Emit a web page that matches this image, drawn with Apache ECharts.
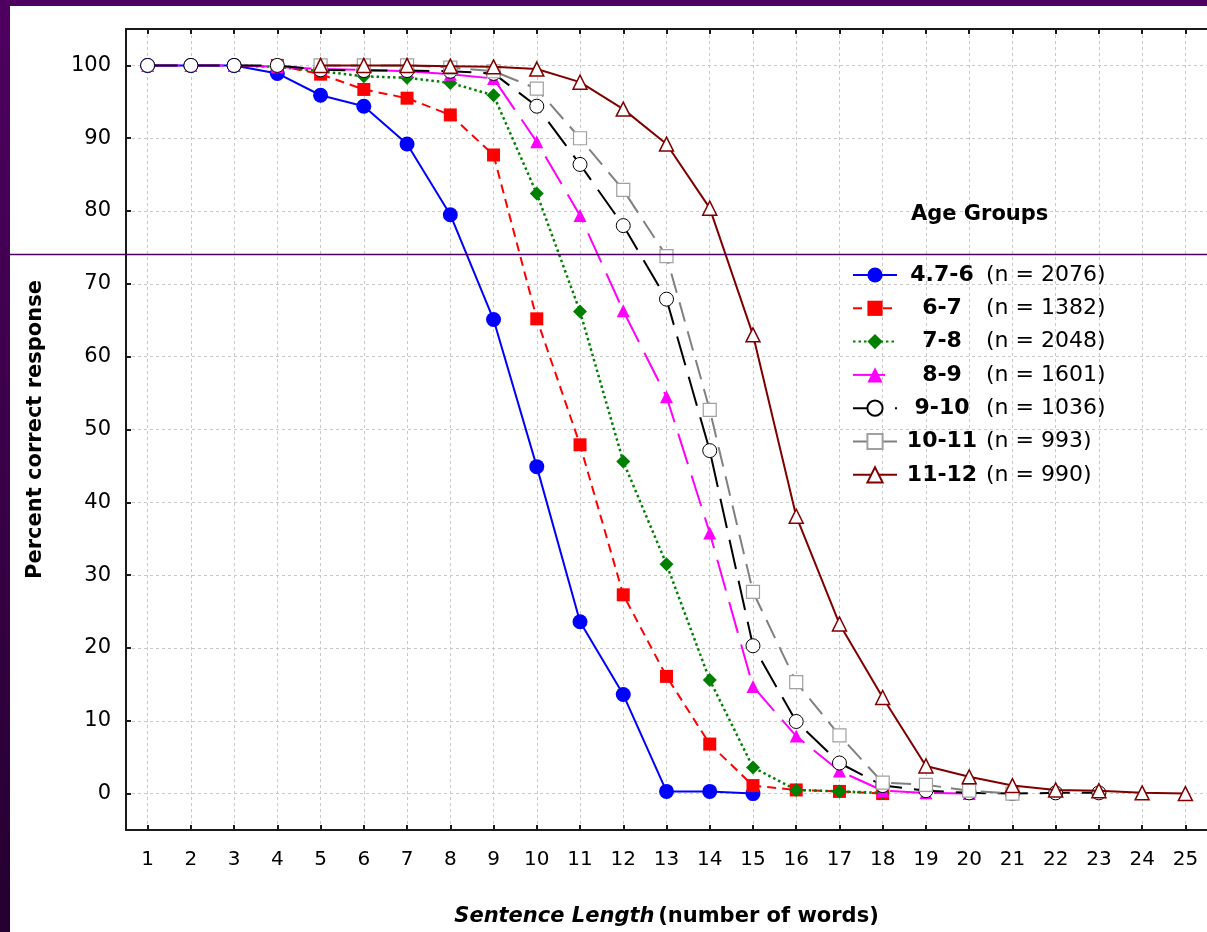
<!DOCTYPE html>
<html>
<head>
<meta charset="utf-8">
<script src="https://cdn.jsdelivr.net/npm/echarts@6/dist/echarts.min.js"></script>
<style>
html,body{margin:0;padding:0;background:#fff;}
#chart{width:1207px;height:932px;}
</style>
</head>
<body>
<div id="chart"></div>
<script>
// ---- data ----
const xTicks = [1,2,3,4,5,6,7,8,9,10,11,12,13,14,15,16,17,18,19,20,21,22,23,24,25];
const yTicks = [0,10,20,30,40,50,60,70,80,90,100];

const groupNames = ['4.7-6','6-7','7-8','8-9','9-10','10-11','11-12'];
const groupN = ['2076','1382','2048','1601','1036','993','990'];

const g1X = [1,2,3,4,5,6,7,8,9,10,11,12,13,14,15];
const g1Y = [100,100,100,98.9,95.9,94.4,89.2,79.5,65.1,44.9,23.6,13.6,0.3,0.3,0];

const g2X = [4,5,6,7,8,9,10,11,12,13,14,15,16,17,18];
const g2Y = [100,98.8,96.7,95.5,93.2,87.7,65.2,47.9,27.3,16.1,6.8,1.1,0.5,0.3,0];

const g3X = [3,4,5,6,7,8,9,10,11,12,13,14,15,16,17,18];
const g3Y = [100,99.8,99.2,98.5,98.3,97.6,95.9,82.4,66.2,45.6,31.5,15.6,3.6,0.5,0.3,0.1];

const g4X = [1,2,3,4,5,6,7,8,9,10,11,12,13,14,15,16,17,18,19,20];
const g4Y = [100,100,100,99.8,99.5,99.4,99.2,98.8,98.2,89.5,79.4,66.3,54.5,35.8,14.7,7.9,3.1,0.4,0.1,0];

const g5X = [1,2,3,4,5,6,7,8,9,10,11,12,13,14,15,16,17,18,19,20,21,22,23];
const g5Y = [100,100,100,100,99.4,99.3,99.3,99.2,98.9,94.4,86.4,78.0,67.9,47.1,20.3,9.9,4.2,1.1,0.4,0.1,0,0.1,0.1];

const g6X = [5,6,7,8,9,10,11,12,13,14,15,16,17,18,19,20,21];
const g6Y = [100,100,100,99.7,99.2,96.8,90.0,82.9,73.8,52.7,27.7,15.3,8.0,1.5,1.2,0.4,0];

const g7X = [5,6,7,8,9,10,11,12,13,14,15,16,17,18,19,20,21,22,23,24,25];
const g7Y = [100,100,100,99.9,99.8,99.5,97.7,94.0,89.2,80.4,63.0,38.1,23.3,13.2,3.8,2.3,1.1,0.5,0.4,0.1,0];

const allX = [g1X,g2X,g3X,g4X,g5X,g6X,g7X];
const allY = [g1Y,g2Y,g3Y,g4Y,g5Y,g6Y,g7Y];

// ---- styles ----
const FONT = 'DejaVu Sans';
const styles = [
  {color:'#0000ff', type:'solid', width:2, symbol:'circle', size:15, fill:'#0000ff', border:'#0000ff', bw:0},
  {color:'#ff0000', type:[9,6], width:2, symbol:'rect', size:13, fill:'#ff0000', border:'#ff0000', bw:0},
  {color:'#008000', type:[2.5,3], width:2.5, symbol:'diamond', size:14, fill:'#008000', border:'#008000', bw:0},
  {color:'#ff00ff', type:[32,12], width:2, symbol:'triangle', size:13, fill:'#ff00ff', border:'#ff00ff', bw:0},
  {color:'#000000', type:[30,12], width:2, symbol:'circle', size:14, fill:'#ffffff', border:'#000000', bw:1},
  {color:'#808080', type:[20,10], width:2, symbol:'rect', size:13, fill:'#ffffff', border:'#a0a0a0', bw:1.2},
  {color:'#800000', type:'solid', width:2, symbol:'triangle', size:14, fill:'#ffffff', border:'#800000', bw:1.5}
];

const series = groupNames.map((name, i) => ({
  name: name,
  type: 'line',
  data: allX[i].map((x, j) => [x, allY[i][j]]),
  symbol: styles[i].symbol,
  symbolSize: styles[i].size,
  showAllSymbol: true,
  lineStyle: {color: styles[i].color, type: styles[i].type, width: styles[i].width},
  itemStyle: {color: styles[i].fill, borderColor: styles[i].border, borderWidth: styles[i].bw},
  emphasis: {disabled: true},
  z: 2 + i,
  animation: false
}));

const nameMap = {};
groupNames.forEach((n, i) => { nameMap[n] = groupN[i]; });

const chart = echarts.init(document.getElementById('chart'), null, {renderer: 'canvas'});
chart.setOption({
  animation: false,
  backgroundColor: '#ffffff',
  textStyle: {fontFamily: FONT},
  title: {
    text: 'Age Groups',
    left: 906, top: 199,
    textStyle: {fontFamily: FONT, fontSize: 21, fontWeight: 'bold', color: '#000'}
  },
  grid: {left: 126, top: 29, right: -9, bottom: 101, containLabel: false},
  legend: {
    orient: 'vertical',
    left: 847, top: 259,
    itemWidth: 44, itemHeight: 19, itemGap: 11.3,
    data: groupNames,
    formatter: n => '{a|' + n + '}{b|(n = ' + nameMap[n] + ')}',
    textStyle: {
      fontFamily: FONT, fontSize: 22, color: '#000',
      rich: {
        a: {fontFamily: FONT, fontSize: 22, fontWeight: 'bold', width: 80, align: 'center', lineHeight: 22},
        b: {fontFamily: FONT, fontSize: 22, padding: [0,0,0,4], lineHeight: 22}
      }
    }
  },
  xAxis: [{
    type: 'value', min: 0.5, max: 25.5, position: 'bottom',
    name: '{i|Sentence Length} {b|(number of words)}',
    nameLocation: 'middle', nameGap: 76,
    nameTextStyle: {rich: {
      i: {fontFamily: FONT, fontSize: 21, fontWeight: 'bold', fontStyle: 'italic', color: '#000'},
      b: {fontFamily: FONT, fontSize: 21, fontWeight: 'bold', color: '#000'}
    }},
    axisLine: {show: true, onZero: false, lineStyle: {color: '#1a1a1a', width: 2}},
    axisTick: {show: true, inside: true, length: 5, lineStyle: {color: '#1a1a1a', width: 2}, customValues: xTicks},
    axisLabel: {fontFamily: FONT, fontSize: 20, color: '#000', margin: 20, customValues: xTicks},
    splitLine: {show: true, lineStyle: {color: '#c8c8c8', type: [3,3], width: 1}}
  }, {
    type: 'value', min: 0.5, max: 25.5, position: 'top',
    axisLine: {show: true, onZero: false, lineStyle: {color: '#1a1a1a', width: 2}},
    axisTick: {show: true, inside: true, length: 5, lineStyle: {color: '#1a1a1a', width: 2}, customValues: xTicks},
    axisLabel: {show: false},
    splitLine: {show: false}
  }],
  yAxis: {
    type: 'value', min: -5, max: 105,
    name: 'Percent correct response',
    nameLocation: 'middle', nameGap: 80, nameRotate: 90,
    nameTextStyle: {fontFamily: FONT, fontSize: 21, fontWeight: 'bold', color: '#000'},
    axisLine: {show: true, onZero: false, lineStyle: {color: '#1a1a1a', width: 2}},
    axisTick: {show: true, inside: true, length: 5, lineStyle: {color: '#1a1a1a', width: 2}, customValues: yTicks},
    axisLabel: {fontFamily: FONT, fontSize: 21, color: '#000', margin: 15, customValues: yTicks},
    splitLine: {show: true, lineStyle: {color: '#c8c8c8', type: [3,3], width: 1}}
  },
  graphic: [
    {type: 'rect', left: 0, top: 0, z: 100, shape: {width: 1207, height: 6}, style: {fill: '#4f0061'}},
    {type: 'rect', left: 0, top: 0, z: 100, shape: {width: 10, height: 932},
      style: {fill: new echarts.graphic.LinearGradient(0, 0, 0, 1, [{offset: 0, color: '#4f0061'}, {offset: 1, color: '#250030'}])}},
    {type: 'line', z: 100, shape: {x1: 10, y1: 254.5, x2: 1207, y2: 254.5}, style: {stroke: '#4a0063', lineWidth: 1.5}}
  ],
  series: series
});
</script>
</body>
</html>
